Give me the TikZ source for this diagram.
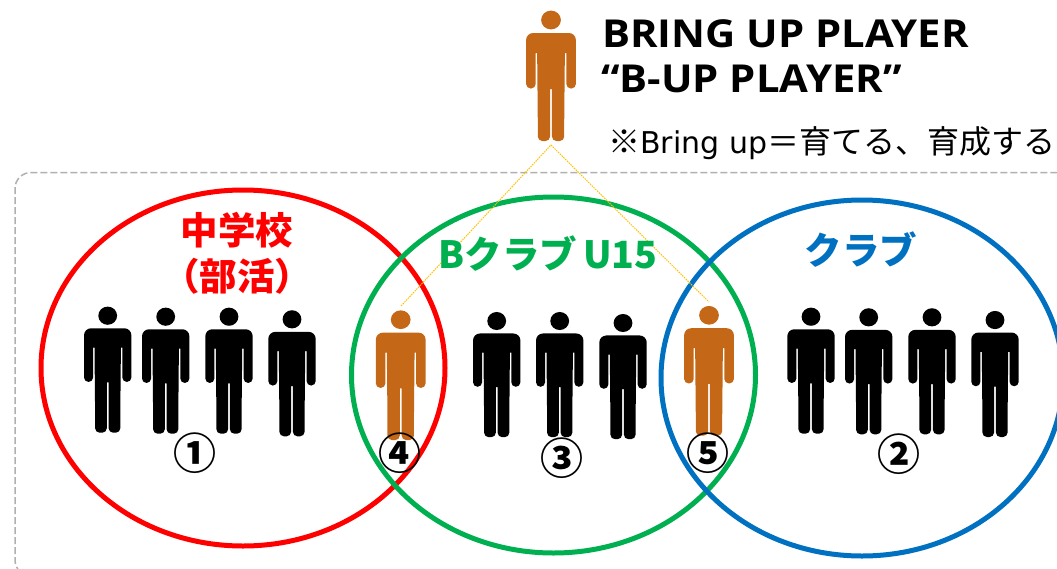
\documentclass[tikz,border=0pt]{standalone}
\usepackage{fontspec}
\setmainfont{DejaVu Sans}
\newfontfamily\titlefont{Open Sans}[BoldFont={Open Sans Bold},BoldFeatures={FakeStretch=1.085}]
\newfontfamily\cjk{Noto Sans CJK JP}
\definecolor{brownman}{HTML}{C46818}
\definecolor{redring}{HTML}{FF0000}
\definecolor{greenring}{HTML}{00B050}
\definecolor{bluering}{HTML}{0070C0}
\definecolor{goldline}{HTML}{FFC000}
\definecolor{framegray}{HTML}{B0B0B0}
\tikzset{
  x=1pt,y=-1pt,
  ring/.style={line width=5pt},
  linkline/.style={goldline,line width=1pt,dash pattern=on 1.5pt off 1pt},
  person/.pic={
    \fill (0,0) circle[radius=9.4];
    \fill (-14.6,33) [rounded corners=0] -- (-13.2,33) -- (-12.6,100) [rounded corners=4.5] -- (-12.6,121) -- (-0.9,121) [rounded corners=0] -- (-0.9,69) -- (0.9,69) [rounded corners=4.5] -- (0.9,121) -- (12.6,121) [rounded corners=0] -- (12.6,100) -- (13.2,33) -- (14.6,33) [rounded corners=4.5] -- (14.6,68.5) -- (23.7,68.5) [rounded corners=7] -- (23.7,13) -- (-23.7,13) [rounded corners=4.5] -- (-23.7,68.5) -- (-14.6,68.5) [rounded corners=0] -- cycle;
  },
  numlabel/.style={font=\cjk\bfseries\fontsize{43}{43}\selectfont,inner sep=0pt},
  title/.style={font=\titlefont\bfseries\fontsize{38.5}{44}\selectfont,inner sep=0pt,anchor=west},
  head/.style={font=\cjk\bfseries\fontsize{37.5}{46}\selectfont,inner sep=0pt,align=center},
}
\begin{document}
\begin{tikzpicture}
\useasboundingbox (0,0) rectangle (1057,568);
\clip (0,0) rectangle (1057,568);
\draw[framegray,line width=1.5pt,dash pattern=on 7pt off 3pt,rounded corners=16] (1100,576) -- (15,576) -- (15,172.5) -- (1100,172.5);
\draw[ring,redring] (243,368) ellipse[x radius=202,y radius=178];
\draw[ring,greenring] (553.5,375) ellipse[x radius=202,y radius=178];
\draw[ring,bluering] (862,378) ellipse[x radius=201,y radius=178];
\coordinate (apex) at (551,145);
\coordinate (head4) at (401,306);
\coordinate (head5) at (709,302);
\draw[linkline] (head4) -- (apex) -- (head5);
\pic[brownman,xscale=1.05] at (551,20) {person};
\pic[black,yscale=.967] at (107.7,315.7) {person};
\pic[black,yscale=.967] at (165.7,316.7) {person};
\pic[black,yscale=.967] at (229,316.7) {person};
\pic[black,yscale=.967] at (292,319.3) {person};
\pic[brownman,xscale=1.05,yscale=.995] at (400.7,319.7) {person};
\pic[black,yscale=.96] at (496.7,321) {person};
\pic[black,yscale=.96] at (559.7,321) {person};
\pic[black,yscale=.96] at (623,323) {person};
\pic[brownman,xscale=1.05,yscale=.995] at (709,315.3) {person};
\pic[black,yscale=.967] at (811,316.7) {person};
\pic[black,yscale=.967] at (868.7,317.3) {person};
\pic[black,yscale=.967] at (932,317.3) {person};
\pic[black,yscale=.967] at (995,320) {person};
\node[title] (t1) at (602,34) {BRING UP PLAYER};
\node[title] (t2) at (601,79) {“B-UP PLAYER”};
\node[inner sep=0pt,anchor=west,font=\fontsize{30}{30}\selectfont] (t3) at (608,143) {{\cjk\fontsize{32}{32}\selectfont ※}Bring up{\cjk\fontsize{32}{32}\selectfont ＝育てる、育成する}};
\node[head,redring] (a) at (237,253) {中学校\\（部活）};
\node[head,greenring] (b) at (548,254) {Bクラブ\,U15};
\node[head,bluering] (c) at (861,250) {クラブ};
\node[numlabel] (n1) at (195,453.5) {①};
\node[numlabel] (n4) at (400,453.5) {④};
\node[numlabel] (n3) at (561.7,458.5) {③};
\node[numlabel] (n5) at (708.3,453.5) {⑤};
\node[numlabel] (n2) at (899,454) {②};
\end{tikzpicture}
\end{document}
